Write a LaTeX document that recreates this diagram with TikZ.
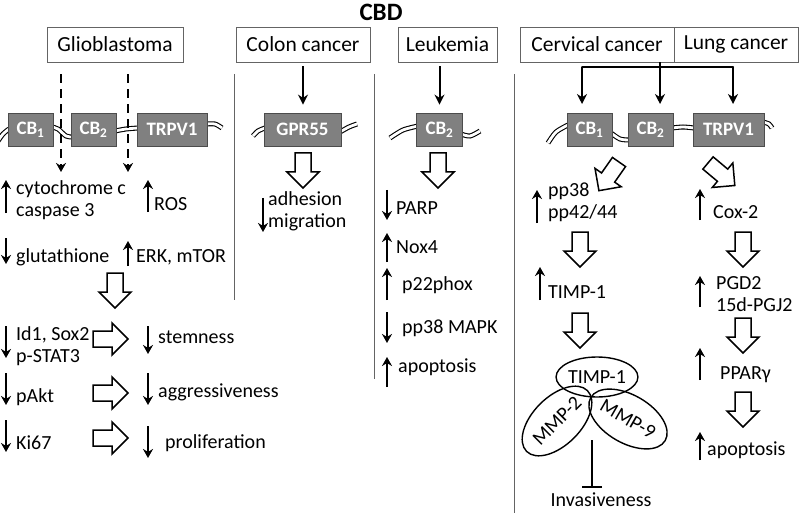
\documentclass[tikz,border=0pt]{standalone}
\usepackage{fontspec}
\setmainfont{Carlito}
\usetikzlibrary{arrows.meta,shapes.geometric}
\definecolor{recgray}{RGB}{128,128,128}
\definecolor{linegray}{RGB}{100,100,100}

\begin{document}
\begin{tikzpicture}[x=1pt, y=-1pt,
    txt/.style={anchor=west, inner sep=0pt, align=left, font=\fontsize{20}{22}\selectfont},
    disease/.style={draw=linegray, line width=0.8pt, minimum height=35pt, inner sep=0pt, font=\fontsize{21.5}{24}\selectfont},
    receptor/.style={draw=gray!60!black, fill=recgray, text=white, line width=0.8pt, minimum height=33pt, inner sep=0pt, font=\fontsize{19}{21}\selectfont\bfseries},
    membrane/.style={double, double distance=2.8pt, line width=1.1pt},
    conn/.style={line width=2pt, -{Stealth[length=10pt, width=10pt]}},
    dasharr/.style={line width=2.3pt, dash pattern=on 9pt off 6pt, -{Stealth[length=9pt, width=10pt]}},
    ind/.style={line width=2.4pt, -{Stealth[length=9pt, width=10pt]}},
    ell/.style={draw, ellipse, line width=1.4pt, inner sep=0pt, font=\fontsize{20}{22}\selectfont},
    openarr/.pic={\draw[line width=1.5pt, fill=white] (-8,0) -- (-8,19) -- (-16,19) -- (0,35) -- (16,19) -- (8,19) -- (8,0) -- cycle;}]
\useasboundingbox (0,0) rectangle (800,513);

% title and disease boxes
\node[font=\fontsize{25}{28}\selectfont\bfseries] (cbd) at (381,12) {CBD};
\node[disease, minimum width=136pt] (glio) at (115,44.5) {Glioblastoma};
\node[disease, minimum width=134pt] (colon) at (303,44.5) {Colon cancer};
\node[disease, minimum width=99pt] (leuk) at (447.5,44.5) {Leukemia};
\node[disease, minimum width=154pt] (cerv) at (597,44.5) {Cervical cancer};
\node[disease, minimum width=124pt] (lung) at (736,44.5) {Lung cancer};

% column separators
\draw[linegray, line width=0.8pt] (234,74) -- (234,300);
\draw[linegray, line width=0.8pt] (374,74) -- (374,379);
\draw[linegray, line width=0.8pt] (514,74) -- (514,513);

% membranes
\draw[membrane] plot[smooth] coordinates {(-2,141) (3,134) (9,129)};
\draw[membrane] plot[smooth] coordinates {(52,127) (58,129) (66,136) (72,137)};
\draw[membrane] plot[smooth] coordinates {(115,131) (126,129) (138,128)};
\draw[membrane] plot[smooth] coordinates {(206,124) (215,124) (222,128)};
\draw[membrane] plot[smooth] coordinates {(253,136) (258,131) (265,128)};
\draw[membrane] plot[smooth] coordinates {(340,132) (349,127) (357,124)};
\draw[membrane] plot[smooth] coordinates {(390,138) (403,130) (418,126)};
\draw[membrane] plot[smooth] coordinates {(461,134) (470,136) (480,131)};
\draw[membrane] plot[smooth] coordinates {(548,143) (556,132) (568,125)};
\draw[membrane] plot[smooth] coordinates {(611,133) (620,139) (629,140)};
\draw[membrane] plot[smooth] coordinates {(672,128) (683,127) (694,128)};
\draw[membrane] plot[smooth] coordinates {(763,122) (769,124) (772,128)};

% receptors
\node[receptor, minimum width=45pt] (gcb1) at (30.5,129.5) {CB\textsubscript{1}};
\node[receptor, minimum width=45pt] (gcb2) at (93.5,129.5) {CB\textsubscript{2}};
\node[receptor, minimum width=70pt] (gtrpv) at (172,129.5) {TRPV1};
\node[receptor, minimum width=77pt] (gpr) at (302.5,129.5) {GPR55};
\node[receptor, minimum width=46pt] (lcb2) at (439.5,129.5) {CB\textsubscript{2}};
\node[receptor, minimum width=45pt] (ccb1) at (589.5,129.5) {CB\textsubscript{1}};
\node[receptor, minimum width=45pt] (ccb2) at (650.5,129.5) {CB\textsubscript{2}};
\node[receptor, minimum width=71pt] (ctrpv) at (728.5,129.5) {TRPV1};

% connectors
\coordinate (d1) at (61,172);
\coordinate (d2) at (128,172);
\draw[dasharr, shorten <=12pt] (glio.south -| d1) -- (d1);
\draw[dasharr, shorten <=12pt] (glio.south -| d2) -- (d2);
\draw[conn, shorten <=4pt, shorten >=8pt] (colon.south) -- (colon.south |- gpr.north);
\draw[conn, shorten <=4pt, shorten >=8pt] (leuk.south -| lcb2) -- (lcb2.north);
\coordinate (t1) at (582,104);
\coordinate (t2) at (660,104);
\coordinate (t3) at (733,104);
\coordinate (j) at (660,67);
\draw[line width=2pt, line cap=round] (j -| t1) -- (j -| t3);
\draw[conn] (cerv.south -| t2) -- (t2);
\draw[conn] (j -| t1) -- (t1);
\draw[conn] (j -| t3) -- (t3);

% glioblastoma
\draw[ind] (6,213) -- (6,180);
\node[txt] (cytc) at (16,200) {cytochrome c\\caspase 3};
\draw[ind] (148,212) -- (148,180);
\node[txt] (ros) at (154,204) {ROS};
\draw[ind] (6,238) -- (6,264);
\node[txt] (glut) at (16,257) {glutathione};
\draw[ind] (128,266) -- (128,241);
\node[txt] (erk) at (136,257) {ERK, mTOR};
\pic at (115,273) {openarr};
\draw[ind] (6,326) -- (6,358);
\node[txt] (idsox) at (16,346) {Id1, Sox2\\p-STAT3};
\pic[rotate=90] at (93,339) {openarr};
\draw[ind] (148,326) -- (148,354);
\node[txt] (stem) at (158,337) {stemness};
\draw[ind] (6,373) -- (6,405);
\node[txt] (pakt) at (16,397) {pAkt};
\pic[rotate=90] at (93,393) {openarr};
\draw[ind] (148,373) -- (148,405);
\node[txt] (aggr) at (158,392) {aggressiveness};
\draw[ind] (6,420) -- (6,452);
\node[txt] (ki) at (16,443) {Ki67};
\pic[rotate=90] at (93,438) {openarr};
\draw[ind] (148,426) -- (148,458);
\node[txt] (prolif) at (165,443) {proliferation};

% colon cancer
\pic at (303,153) {openarr};
\draw[ind] (263,198) -- (263,232);
\node[txt] (adh) at (268,211) {adhesion\\migration};

% leukemia
\pic at (438,153) {openarr};
\draw[ind] (387,190) -- (387,220);
\node[txt] (parp) at (396,208) {PARP};
\draw[ind] (387,262) -- (387,233);
\node[txt] (nox) at (396,247) {Nox4};
\draw[ind] (387,300) -- (387,268);
\node[txt] (phox) at (402,285) {p22phox};
\draw[ind] (387,312) -- (387,343);
\node[txt] (mapk) at (402,328) {pp38 MAPK};
\draw[ind] (387,387) -- (387,357);
\node[txt] (apol) at (398,367) {apoptosis};

% cervical cancer
\pic[rotate=-35] at (619,162) {openarr};
\draw[ind] (537,223) -- (537,190);
\node[txt] (pp) at (548,202) {pp38\\pp42/44};
\pic at (580,232) {openarr};
\draw[ind] (540,300) -- (540,267);
\node[txt] (timp) at (548,292) {TIMP-1};
\pic at (580,313) {openarr};
\node[ell, minimum width=80pt, minimum height=40pt] (timpe) at (597,377) {TIMP-1};
\node[ell, rotate=45, minimum width=86pt, minimum height=48pt] (mmp2) at (557,421) {MMP-2};
\node[ell, rotate=-30, minimum width=86pt, minimum height=48pt] (mmp9) at (628,419) {MMP-9};
\coordinate (inh) at (592,440);
\node[txt, anchor=center] (invas) at (601,500) {Invasiveness};
\draw[line width=2pt, -{Bar[width=20pt]}, shorten >=5pt] (inh) -- (invas.north -| inh);

% lung cancer
\pic[rotate=50] at (708,163) {openarr};
\draw[ind] (700,220) -- (700,189);
\node[txt] (cox) at (713,212) {Cox-2};
\pic at (743,232) {openarr};
\draw[ind] (700,307) -- (700,276);
\node[txt] (pgd) at (716,294) {PGD2\\15d-PGJ2};
\pic at (743,318) {openarr};
\draw[ind] (700,380) -- (700,348);
\node[txt] (ppar) at (720,375) {PPARγ};
\pic at (743,392) {openarr};
\draw[ind] (700,460) -- (700,432);
\node[txt] (apoc) at (707,450) {apoptosis};
\end{tikzpicture}
\end{document}
